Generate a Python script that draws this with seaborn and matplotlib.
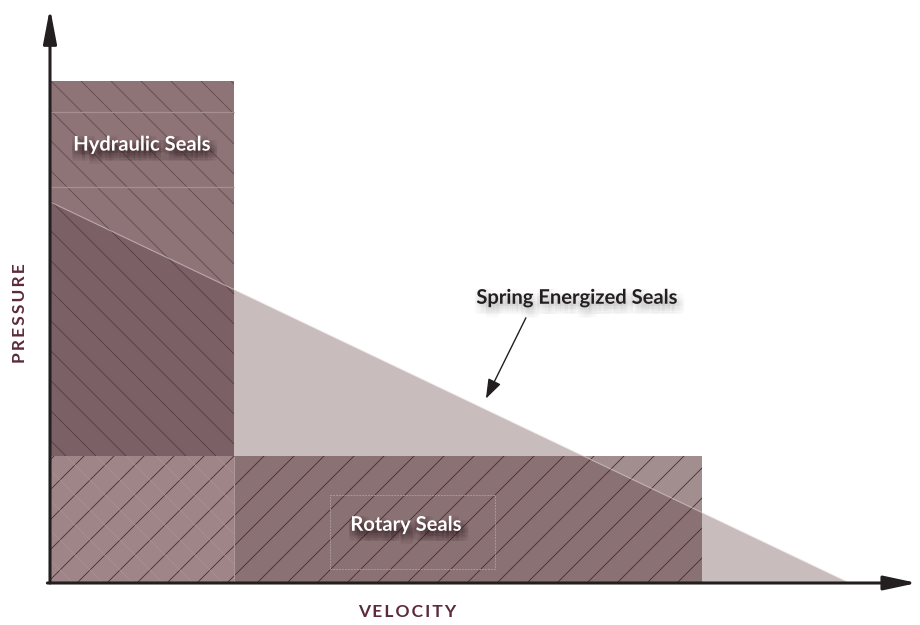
import matplotlib
matplotlib.use("Agg")
import matplotlib.pyplot as plt
import matplotlib.patheffects as pe
from matplotlib.patches import Rectangle, FancyArrowPatch
import numpy as np
import seaborn as sns

# Operating envelopes in relative units (velocity on x, pressure on y)
hydraulic_velocity = [0.0, 23.0]
hydraulic_pressure = [0.0, 100.0]
hydraulic_bands = [78.9, 93.8]
rotary_velocity = [0.0, 81.5]
rotary_pressure = [0.0, 25.3]
spring_velocity = [0.0, 100.0]
spring_pressure = [75.9, 0.0]
rotary_box_velocity = [35.0, 55.6]
rotary_box_pressure = [2.8, 17.5]

labels = ["Hydraulic Seals", "Rotary Seals", "Spring Energized Seals"]
label_velocity = [11.5, 44.5, 65.9]
label_pressure = [87.3, 11.6, 56.8]
callout_from = (59.5, 52.8)
callout_to = (54.5, 36.7)

x_title = "VELOCITY"
y_title = "PRESSURE"

DPI = 90
PT = 100 / DPI  # keep sizes in "pixel-like" points

sns.set_theme(style="white")
plt.rcParams["font.family"] = ["Lato", "DejaVu Sans"]
plt.rcParams["hatch.linewidth"] = 0.6 * PT

fig = plt.figure(figsize=(921 / DPI, 625 / DPI), dpi=DPI)
ax = fig.add_axes([50 / 921, 42 / 625, 867 / 921, 575 / 625])
ax.set_xlim(0, 108.4)
ax.set_ylim(0, 114.5)
for s in ax.spines.values():
    s.set_visible(False)
ax.set_xticks([])
ax.set_yticks([])
ax.grid(False)

c_tri = "#c9bcbd"
c_hyd = "#8e7476"
c_hyd_tri = "#7b6165"
c_rot = "#a28e8f"
c_rot_tri = "#8a7173"
c_rot_hyd = "#9f8587"

sv = np.array(spring_velocity)
sp = np.array(spring_pressure)

# spring energized envelope
ax.fill_between(sv, 0, sp, color=c_tri, lw=0, zorder=1)

# hydraulic envelope
hyd = ax.bar(hydraulic_velocity[0], hydraulic_pressure[1] - hydraulic_pressure[0],
             width=hydraulic_velocity[1] - hydraulic_velocity[0], align="edge",
             bottom=hydraulic_pressure[0], color=c_hyd, edgecolor="#634a4f",
             hatch="\\", lw=0, zorder=2)[0]
ov = ax.fill_between(sv, 0, sp, color=c_hyd_tri, edgecolor="#553c42",
                     hatch="\\", lw=0, zorder=3)
ov.set_clip_path(hyd)
ax.hlines(hydraulic_bands, hydraulic_velocity[0], hydraulic_velocity[1],
          color="#a68f91", lw=0.9 * PT, zorder=3.5)

# rotary envelope
rot = ax.bar(rotary_velocity[0], rotary_pressure[1] - rotary_pressure[0],
             width=rotary_velocity[1] - rotary_velocity[0], align="edge",
             bottom=rotary_pressure[0], color=c_rot, edgecolor="#4a2b33",
             hatch="/", lw=0, zorder=4)[0]
ov2 = ax.fill_between(sv, 0, sp, color=c_rot_tri, edgecolor="#4a2b33",
                      hatch="/", lw=0, zorder=5)
ov2.set_clip_path(rot)
ov3 = ax.bar(hydraulic_velocity[0], hydraulic_pressure[1] - hydraulic_pressure[0],
             width=hydraulic_velocity[1] - hydraulic_velocity[0], align="edge",
             bottom=hydraulic_pressure[0], color=c_rot_hyd, edgecolor="#4a2b33",
             hatch="/", lw=0, zorder=6)[0]
ov3.set_clip_path(rot)
ov4 = ax.bar(hydraulic_velocity[0], hydraulic_pressure[1] - hydraulic_pressure[0],
             width=hydraulic_velocity[1] - hydraulic_velocity[0], align="edge",
             bottom=hydraulic_pressure[0], color="none", edgecolor="#a98f91",
             hatch="\\", lw=0, zorder=6.5)[0]
ov4.set_clip_path(rot)
ax.vlines(hydraulic_velocity[1], rotary_pressure[0], rotary_pressure[1],
          color="#ad9698", lw=0.8 * PT, zorder=6.6)

# hypotenuse highlight
sns.lineplot(x=spring_velocity, y=spring_pressure, ax=ax, color="#e6dcdc",
             lw=0.8 * PT, alpha=0.55, zorder=7, sort=False)

# rotary label frame
ax.add_patch(Rectangle((rotary_box_velocity[0], rotary_box_pressure[0]),
                       rotary_box_velocity[1] - rotary_box_velocity[0],
                       rotary_box_pressure[1] - rotary_box_pressure[0],
                       fill=False, edgecolor="#a9999b", lw=0.7 * PT,
                       linestyle=(0, (2, 1)), zorder=7))


def soft_shadow(color, alpha, ox=2, oy=-4, r=4):
    effects = []
    for dx in range(-r, r + 1, 2):
        for dy in range(-r, r + 1, 2):
            effects.append(pe.SimplePatchShadow(offset=(ox + dx, oy + dy),
                                                shadow_rgbFace=color, alpha=alpha))
    effects.append(pe.Normal())
    return effects


for i, lab in enumerate(labels):
    if lab == "Spring Energized Seals":
        ax.text(label_velocity[i], label_pressure[i], lab, ha="center", va="center",
                fontsize=14.5 * PT, fontweight="bold", color="#231f20", zorder=10,
                path_effects=soft_shadow("#8a8a8a", 0.035))
    else:
        ax.text(label_velocity[i], label_pressure[i], lab, ha="center", va="center",
                fontsize=14.5 * PT, fontweight="bold", color="white", zorder=10,
                path_effects=soft_shadow("#2a161c", 0.065))

ax.annotate("", xy=callout_to, xytext=callout_from,
            arrowprops=dict(arrowstyle="-|>,head_length=1.0,head_width=0.35",
                            color="#231f20", lw=1.0 * PT, mutation_scale=12 * PT,
                            shrinkA=0, shrinkB=0), zorder=10)

# axis arrows
ax.add_patch(FancyArrowPatch((-0.003, 0), (1, 0), transform=ax.transAxes,
                             arrowstyle="-|>,head_length=20,head_width=4.3",
                             mutation_scale=PT, color="#231f20", lw=2.2 * PT,
                             shrinkA=0, shrinkB=0, clip_on=False, zorder=11))
ax.add_patch(FancyArrowPatch((0, 0), (0, 1), transform=ax.transAxes,
                             arrowstyle="-|>,head_length=21,head_width=4",
                             mutation_scale=PT, color="#231f20", lw=2.2 * PT,
                             shrinkA=0, shrinkB=0, clip_on=False, zorder=11))

thin = "\u2009"
fig.text(407 / 921, 1 - 612 / 625, thin.join(x_title), ha="center", va="center",
         fontsize=12.5 * PT, fontweight="bold", color="#5b2b3b")
fig.text(20 / 921, 1 - 313 / 625, thin.join(y_title), ha="center", va="center",
         rotation=90, fontsize=12.5 * PT, fontweight="bold", color="#5b2b3b")

fig.savefig("out.png", dpi=DPI)
